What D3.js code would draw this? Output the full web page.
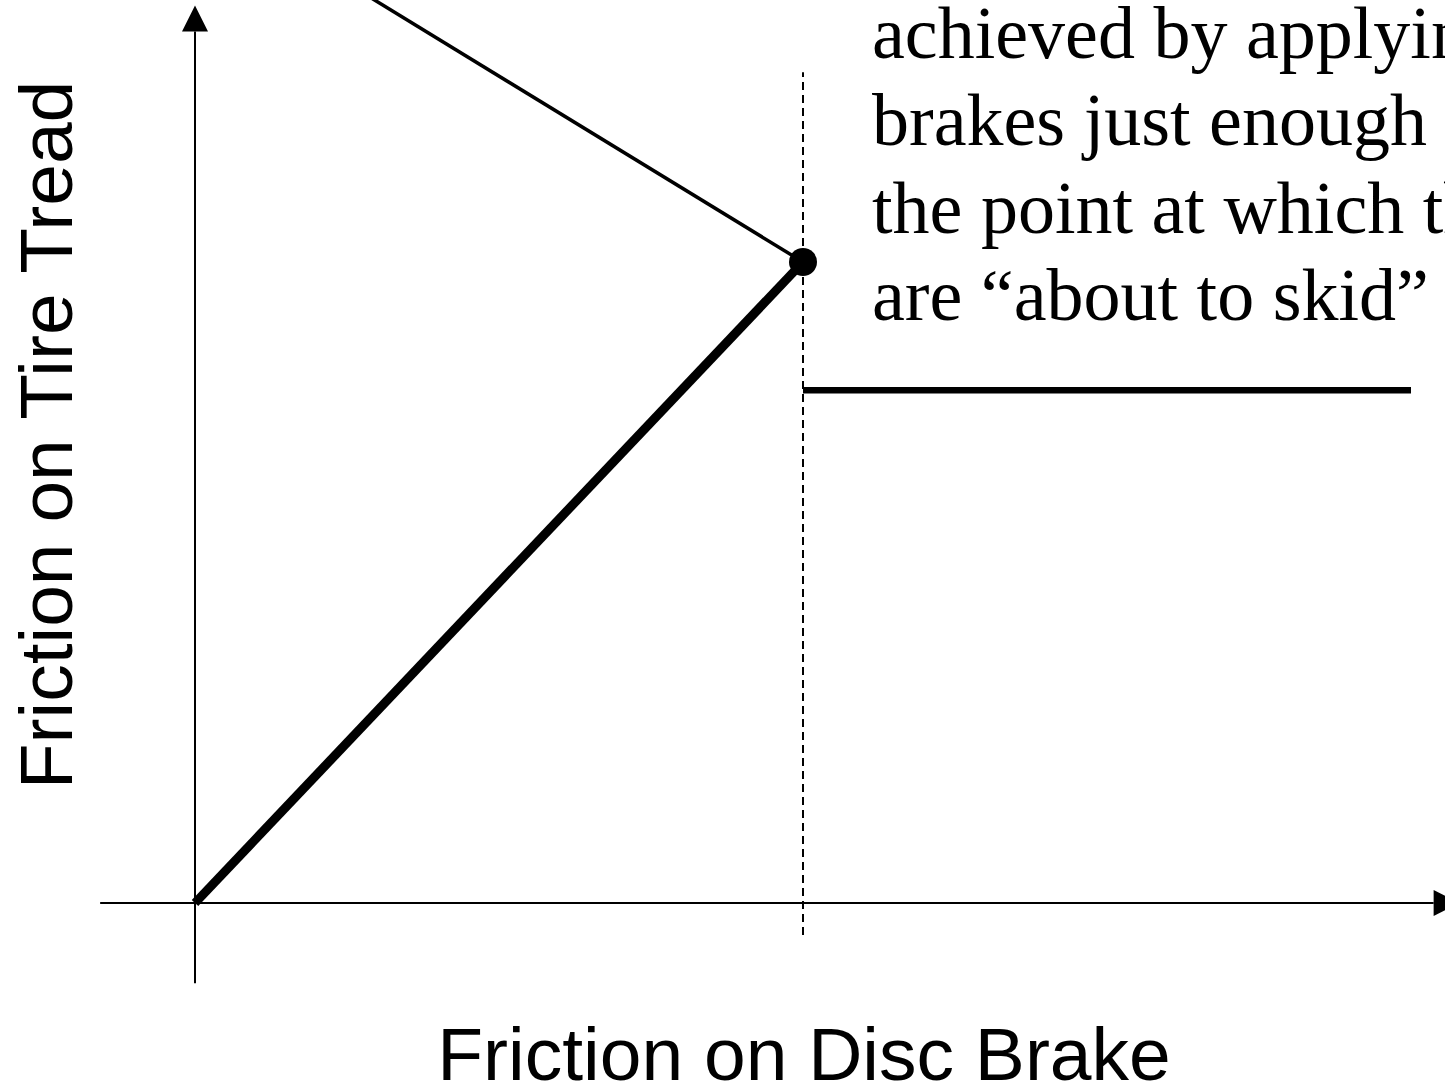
<!DOCTYPE html>
<html>
<head>
<meta charset="utf-8">
<script src="https://cdn.jsdelivr.net/npm/d3@7"></script>
<style>
  body { margin: 0; background: #fff; }
  svg { display: block; }
</style>
</head>
<body>
<div id="grafico"></div>
<script>
// Friction on tire tread vs friction on disc brake
const rollX = [0, 5];          // tire rolling: tread friction rises with brake friction
const rollY = [0, 5];
const upperX = [0, 5];         // thin line coming down to the peak
const upperY = [7.9, 5];
const skidX = [5, 10];         // once skidding, tread friction drops
const skidY = [4, 4];
const peak = [5, 5];
const limitX = 5;              // dashed line at the skid point
const limitY = [-0.25, 6.48];
const xAxisRange = [-0.78, 10.4];
const yAxisRange = [-0.625, 7];

const noteLines = [
    "achieved by applying",
    "brakes just enough to reach",
    "the point at which the tires",
    "are \u201cabout to skid\u201d"
];
const xLabel = "Friction on Disc Brake";
const yLabel = "Friction on Tire Tread";

const width = 1445;
const height = 1084;

const svg = d3.select("#grafico")
    .append("svg")
    .attr("width", width)
    .attr("height", height);

const x = d3.scaleLinear().domain([0, 5]).range([195, 803]);
const y = d3.scaleLinear().domain([0, 5]).range([903, 262]);

const line = d3.line().x(d => x(d[0])).y(d => y(d[1]));
const arrow = 26;

// axes
svg.append("line")
    .attr("x1", x(xAxisRange[0])).attr("x2", x(xAxisRange[1]) - arrow)
    .attr("y1", y(0)).attr("y2", y(0))
    .attr("stroke", "#000").attr("stroke-width", 2);
svg.append("path")
    .attr("d", `M${x(xAxisRange[1])},${y(0)} L${x(xAxisRange[1]) - arrow},${y(0) - arrow / 2} L${x(xAxisRange[1]) - arrow},${y(0) + arrow / 2} Z`)
    .attr("fill", "#000");

svg.append("line")
    .attr("x1", x(0)).attr("x2", x(0))
    .attr("y1", y(yAxisRange[0])).attr("y2", y(yAxisRange[1]) + arrow)
    .attr("stroke", "#000").attr("stroke-width", 2);
svg.append("path")
    .attr("d", `M${x(0)},${y(yAxisRange[1])} L${x(0) - arrow / 2},${y(yAxisRange[1]) + arrow} L${x(0) + arrow / 2},${y(yAxisRange[1]) + arrow} Z`)
    .attr("fill", "#000");

// dashed limit
svg.append("line")
    .attr("x1", x(limitX)).attr("x2", x(limitX))
    .attr("y1", y(limitY[0])).attr("y2", y(limitY[1]))
    .attr("stroke", "#000").attr("stroke-width", 2)
    .attr("stroke-dasharray", "8,5");

// curves
svg.append("path")
    .datum(d3.zip(upperX, upperY))
    .attr("d", line)
    .attr("fill", "none").attr("stroke", "#000").attr("stroke-width", 3.5);

svg.append("path")
    .datum(d3.zip(rollX, rollY))
    .attr("d", line)
    .attr("fill", "none").attr("stroke", "#000").attr("stroke-width", 9);

svg.append("path")
    .datum(d3.zip(skidX, skidY))
    .attr("d", line)
    .attr("fill", "none").attr("stroke", "#000").attr("stroke-width", 6.5);

svg.append("circle")
    .attr("cx", x(peak[0])).attr("cy", y(peak[1]))
    .attr("r", 14).attr("fill", "#000");

// note text, runs off the right edge as in the source slide
svg.append("g")
    .selectAll("text")
    .data(noteLines)
    .enter()
    .append("text")
    .attr("x", 872)
    .attr("y", (d, i) => 58 + i * 87.3)
    .attr("font-family", "'Liberation Serif', 'Times New Roman', serif")
    .attr("font-size", 74)
    .attr("fill", "#000")
    .text(d => d);

// axis labels
svg.append("text")
    .attr("x", 804)
    .attr("y", 1080)
    .attr("text-anchor", "middle")
    .attr("font-family", "'Liberation Sans', Arial, sans-serif")
    .attr("font-size", 75)
    .text(xLabel);

svg.append("text")
    .attr("transform", "translate(72,435) rotate(-90)")
    .attr("text-anchor", "middle")
    .attr("font-family", "'Liberation Sans', Arial, sans-serif")
    .attr("font-size", 75)
    .text(yLabel);
</script>
</body>
</html>
